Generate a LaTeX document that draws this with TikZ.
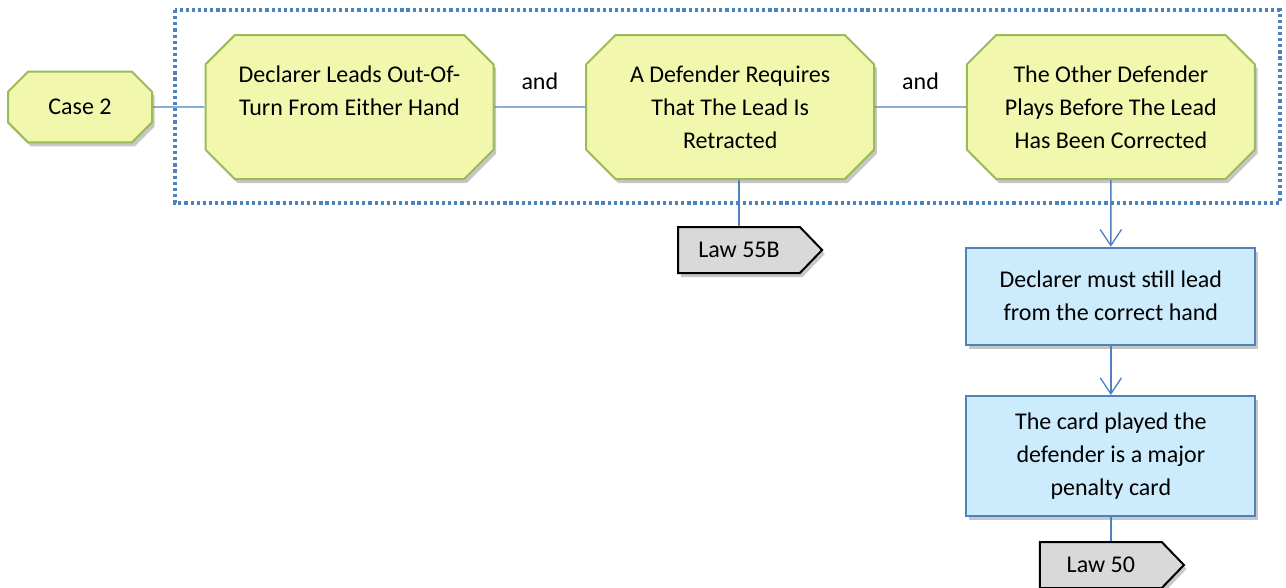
\documentclass[tikz,border=0pt]{standalone}
\usepackage{fontspec}
\setmainfont{Carlito}
\usetikzlibrary{positioning, arrows.meta, shapes.misc, shapes.symbols, shadows}
\definecolor{condfill}{HTML}{F1F8AE}
\definecolor{conddraw}{HTML}{9BBB59}
\definecolor{resfill}{HTML}{CCEBFD}
\definecolor{linkblue}{HTML}{4F81BD}
\definecolor{lawfill}{HTML}{D9D9D9}

\begin{document}
\begin{tikzpicture}[
    x=0.75pt, y=-0.75pt,
    every node/.style={font=\fontsize{18}{24.75}\selectfont},
    shade/.style={drop shadow={shadow xshift=2pt, shadow yshift=-3pt, fill=black, opacity=0.22}},
    caseoct/.style={chamfered rectangle, chamfered rectangle xsep=7.5pt, chamfered rectangle ysep=7.5pt, draw=conddraw, fill=condfill, line width=1.5pt, minimum width=108pt, minimum height=53pt, align=center, inner sep=2pt, shade},
    condbox/.style={chamfered rectangle, chamfered rectangle xsep=11pt, chamfered rectangle ysep=11pt, draw=conddraw, fill=condfill, line width=1.5pt, minimum width=216pt, minimum height=108pt, align=center, inner sep=2pt, shade},
    resbox/.style={rectangle, draw=linkblue, fill=resfill, line width=1.5pt, minimum width=216.75pt, align=center, inner sep=3pt, shade},
    lawtag/.style={signal, signal to=east, signal pointer angle=92, draw=black, fill=lawfill, line width=1.5pt, minimum width=108pt, minimum height=34.5pt, inner sep=2pt, shade},
    conn/.style={draw=linkblue, line width=1pt},
    arr/.style={conn, -{Straight Barb[length=12pt, width=16pt, line width=1pt]}},
    group/.style={draw=linkblue, line width=2.6pt, dash pattern=on 2.4pt off 2.2pt}
]
    \useasboundingbox (0,0) rectangle (1286,587);

    % the three conditions
    \node[caseoct] (case) at (80,107) {Case 2};
    \node[condbox] (declead) at (349.5,107) {Declarer Leads Out-Of-\\Turn From Either Hand\\\mbox{}};
    \node[condbox] (retract) [right=68pt of declead] {A Defender Requires\\That The Lead Is\\Retracted};
    \node[condbox] (otherdef) [right=68pt of retract] {The Other Defender\\Plays Before The Lead\\Has Been Corrected};
    \draw[group] (175,10) rectangle (1280,203);

    % results
    \node[resbox, minimum height=72.75pt] (mustlead) [below=50pt of otherdef] {Declarer must still lead\\from the correct hand};
    \node[resbox, minimum height=90pt] (penalty) [below=37pt of mustlead] {The card played the\\defender is a major\\penalty card};
    \node[lawtag] (law55b) at (739,250) {Law 55B};
    \node[lawtag] (law50) [below=18pt of penalty, xshift=-7.5pt] {Law 50};

    \draw[conn] (case) -- (declead);
    \draw[conn] (declead) -- node[midway, above=9pt] {and} (retract);
    \draw[conn] (retract) -- node[midway, above=9pt] {and} (otherdef);
    \draw[conn] (law55b.north) -- (law55b.north |- retract.south);
    \draw[arr] (otherdef) -- (mustlead);
    \draw[arr] (mustlead) -- (penalty);
    \draw[conn] (penalty) -- (penalty |- law50.north);
\end{tikzpicture}
\end{document}
